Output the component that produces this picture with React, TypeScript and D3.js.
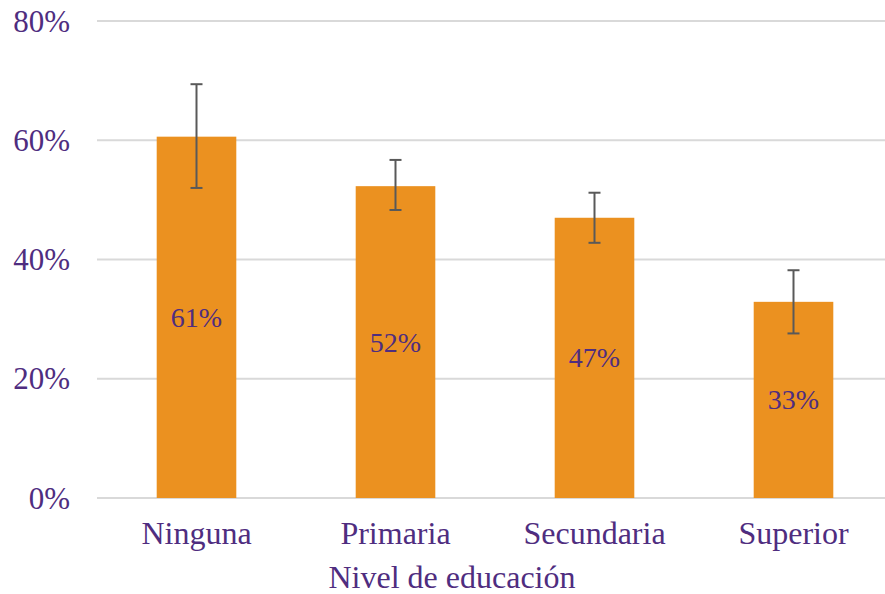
import React from "react";
import * as d3 from "d3";

const categories = ["Ninguna", "Primaria", "Secundaria", "Superior"];
const values = [60.6, 52.3, 47.0, 32.9];
const errLow = [52.0, 48.3, 42.8, 27.6];
const errHigh = [69.4, 56.7, 51.2, 38.2];
const labels = ["61%", "52%", "47%", "33%"];
const yTicks = [0, 20, 40, 60, 80];

const W = 885;
const H = 594;
const purple = "#4F2D7F";
const orange = "#EB9120";
const font = "'Liberation Serif', 'Times New Roman', serif";

export default function App() {
  const x = d3.scaleBand<string>().domain(categories).range([97, 893]).paddingInner(0.6).paddingOuter(0.3);
  const y = d3.scaleLinear().domain([0, 80]).range([498, 21]);
  const bw = x.bandwidth();
  return (
    <svg width={W} height={H} style={{ position: "absolute", left: 0, top: 0, background: "#fff" }}>
      {yTicks.map((t) => (
        <g key={t}>
          <line x1={97} x2={885} y1={y(t)} y2={y(t)} stroke="#D9D9D9" strokeWidth={2} />
          <text x={70} y={y(t)} dy="0.34em" textAnchor="end" fill={purple}
            style={{ fontFamily: font, fontSize: 31 }}>{t}%</text>
        </g>
      ))}
      {categories.map((c, i) => {
        const cx = (x(c) as number) + bw / 2;
        return (
          <g key={c}>
            <rect x={x(c)} y={y(values[i])} width={bw} height={y(0) - y(values[i])} fill={orange} />
            <line x1={cx} x2={cx} y1={y(errHigh[i])} y2={y(errLow[i])} stroke="#595959" strokeWidth={2} />
            <line x1={cx - 6} x2={cx + 6} y1={y(errHigh[i])} y2={y(errHigh[i])} stroke="#595959" strokeWidth={2} />
            <line x1={cx - 6} x2={cx + 6} y1={y(errLow[i])} y2={y(errLow[i])} stroke="#595959" strokeWidth={2} />
            <text x={cx} y={y(values[i] / 2)} dy="0.34em" textAnchor="middle" fill={purple}
              style={{ fontFamily: font, fontSize: 28 }}>{labels[i]}</text>
            <text x={cx} y={544} textAnchor="middle" fill={purple}
              style={{ fontFamily: font, fontSize: 32 }}>{c}</text>
          </g>
        );
      })}
      <text x={452} y={588} textAnchor="middle" fill={purple}
        style={{ fontFamily: font, fontSize: 32 }}>Nivel de educación</text>
    </svg>
  );
}
